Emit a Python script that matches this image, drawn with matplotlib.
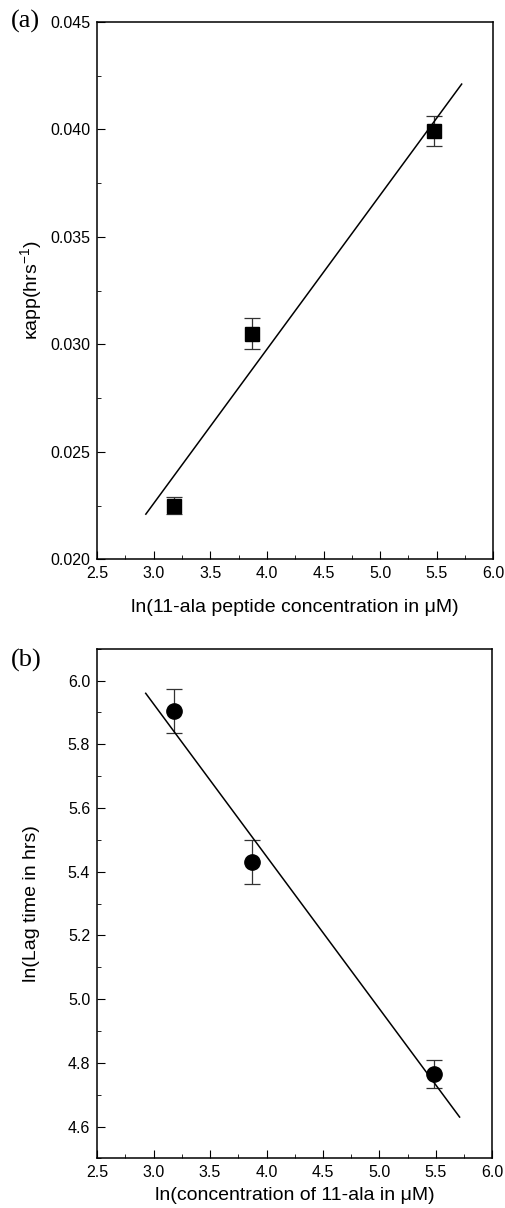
import numpy as np
import matplotlib
matplotlib.use('Agg')
import matplotlib.pyplot as plt
from matplotlib.ticker import MultipleLocator

plt.rcParams['font.family'] = ['Liberation Sans', 'DejaVu Sans']
plt.rcParams['mathtext.fontset'] = 'custom'
plt.rcParams['mathtext.rm'] = 'Liberation Sans'

# panel (a): rate constant vs ln(concentration)
x_a = [3.18, 3.87, 5.48]
k_app = [0.0225, 0.0305, 0.0399]
k_err = [0.0004, 0.0007, 0.0007]
fit_a_x = [2.93, 5.72]
fit_a_y = [0.0221, 0.0421]

# panel (b): ln(lag time) vs ln(concentration)
x_b = [3.18, 3.87, 5.48]
lag = [5.905, 5.43, 4.765]
lag_err = [0.07, 0.07, 0.045]
fit_b_x = [2.93, 5.71]
fit_b_y = [5.96, 4.63]

fig = plt.figure(figsize=(5.06, 12.08), dpi=100)
ax1 = fig.add_axes([0.192, 0.537, 0.783, 0.445])
ax2 = fig.add_axes([0.192, 0.041, 0.781, 0.422])

ax1.errorbar(x_a, k_app, yerr=k_err, fmt='s', color='k', ms=10,
             ecolor='#333333', elinewidth=0.9, capsize=5.5, capthick=0.9)
ax1.plot(fit_a_x, fit_a_y, 'k-', lw=1.1, zorder=5)
ax1.set_xlim(2.5, 6.0)
ax1.set_ylim(0.020, 0.045)
ax1.xaxis.set_major_locator(MultipleLocator(0.5))
ax1.xaxis.set_minor_locator(MultipleLocator(0.25))
ax1.yaxis.set_major_locator(MultipleLocator(0.005))
ax1.yaxis.set_minor_locator(MultipleLocator(0.0025))
ax1.yaxis.set_major_formatter(plt.FormatStrFormatter('%.3f'))
ax1.set_xlabel('ln(11-ala peptide concentration in μM)', fontsize=14, labelpad=13)
ax1.set_ylabel(r'κapp(hrs$^{\mathregular{-1}}$)', fontsize=14, labelpad=4)

ax2.errorbar(x_b, lag, yerr=lag_err, fmt='o', color='k', ms=11,
             ecolor='#333333', elinewidth=0.9, capsize=5.5, capthick=0.9)
ax2.plot(fit_b_x, fit_b_y, 'k-', lw=1.1, zorder=5)
ax2.set_xlim(2.5, 6.0)
ax2.set_ylim(4.5, 6.1)
ax2.xaxis.set_major_locator(MultipleLocator(0.5))
ax2.xaxis.set_minor_locator(MultipleLocator(0.25))
ax2.yaxis.set_major_locator(MultipleLocator(0.2))
ax2.yaxis.set_minor_locator(MultipleLocator(0.1))
ax2.set_xlabel('ln(concentration of 11-ala in μM)', fontsize=14, labelpad=5)
ax2.set_ylabel('ln(Lag time in hrs)', fontsize=14, labelpad=20)

for ax in (ax1, ax2):
    ax.tick_params(which='both', direction='in', labelsize=11.5)
    ax.tick_params(which='major', length=6, pad=5)
    ax.tick_params(which='minor', length=3)
    for s in ax.spines.values():
        s.set_linewidth(1.1)

fig.text(0.022, 0.982, '(a)', fontsize=19, family='Liberation Serif', va='center')
fig.text(0.022, 0.453, '(b)', fontsize=19, family='Liberation Serif', va='center')

fig.savefig('out.png', dpi=100)
